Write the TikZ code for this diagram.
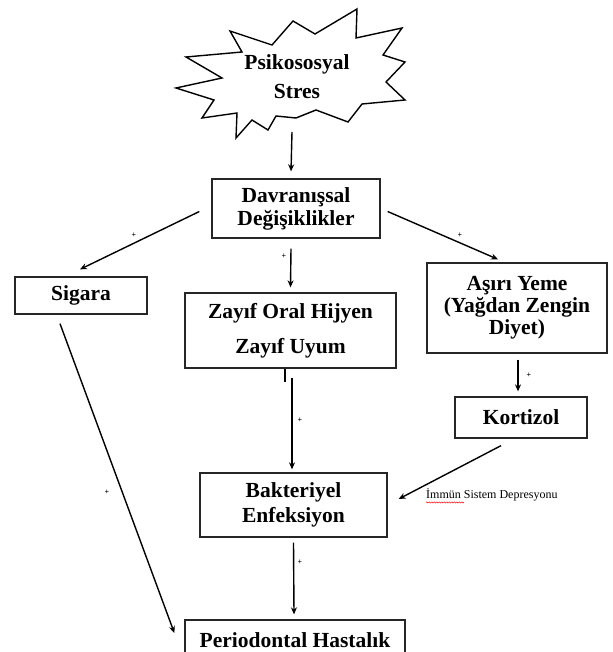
\documentclass[tikz,border=0pt]{standalone}
\usepackage{fontspec}
\setmainfont{Liberation Serif}
\usetikzlibrary{arrows.meta,decorations.pathmorphing}
\begin{document}
\begin{tikzpicture}[x=1pt,y=-1pt,
  box/.style={draw=black!85,line width=1.3pt,align=center,inner sep=0pt,font=\fontsize{21.5}{23}\selectfont\bfseries},
  arr/.style={line width=1.4pt,-{Stealth[length=7pt,width=6pt]}},
  plus/.style={font=\fontsize{8}{9}\selectfont\bfseries,inner sep=0pt},
  note/.style={font=\fontsize{12}{13}\selectfont,inner sep=0pt}]
\useasboundingbox (0,0) rectangle (612,652);
\clip (0,0) rectangle (612,652);
% star
\draw[line width=1.4pt,fill=white,line join=miter]
 (230,31) -- (272,45) -- (293,21) -- (315,34) -- (357,9) -- (356,38) -- (402,28) -- (383,55)
 -- (405,62) -- (386,82) -- (405,100) -- (362,104) -- (348,122) -- (316,110) -- (296,118)
 -- (276,116) -- (268,130) -- (252,120) -- (236,138) -- (237,113) -- (202,118) -- (214,100)
 -- (176,88) -- (222,78) -- (186,57) -- (242,52) -- cycle;
\node[font=\fontsize{21.5}{23}\selectfont\bfseries,align=center,inner sep=0pt] (stres) at (297,77) {Psikososyal\\[6pt]Stres};
\coordinate (starbot) at (292,132);
% boxes
\node[box,minimum width=168pt,minimum height=59pt] (davr) at (296,208.5) {Davranışsal\\Değişiklikler};
\node[box,minimum width=132pt,minimum height=37pt] (sigara) at (81,295.5) {Sigara};
\node[box,minimum width=211pt,minimum height=75pt] (zayif) at (290.5,330.5) {Zayıf Oral Hijyen\\[12pt]Zayıf Uyum};
\node[box,minimum width=180pt,minimum height=90pt,font=\fontsize{21.5}{22}\selectfont\bfseries] (asiri) at (517,308) {Aşırı Yeme\\(Yağdan Zengin\\Diyet)};
\node[box,minimum width=132pt,minimum height=41pt] (kortizol) at (521,417.5) {Kortizol};
\node[box,minimum width=187pt,minimum height=64pt,font=\fontsize{21.5}{25}\selectfont\bfseries] (bakteri) at (293.5,505) {Bakteriyel\\Enfeksiyon};
\node[box,minimum width=220pt,minimum height=40pt] (perio) at (295,640) {Periodontal Hastalık};
% connectors
\draw[arr] (starbot) -- ([xshift=-5pt,yshift=7pt]davr.north);
\draw[arr] ([shift={(-12,3)}]davr.west) -- ([xshift=-1pt,yshift=7pt]sigara.north);
\draw[arr] ([xshift=-5pt,yshift=-10pt]davr.south) -- ([yshift=5pt]zayif.north);
\draw[arr] ([shift={(7,3)}]davr.east) -- ([shift={(-19,-3)}]asiri.north);
\draw[arr] ([shift={(1,6)}]asiri.south) -- ([shift={(-3,-5)}]kortizol.north);
\draw[arr] ([shift={(1.5,9)}]zayif.south) -- ([shift={(-1.5,-3)}]bakteri.north);
\draw[arr] ([shift={(-20,7)}]kortizol.south) -- ([shift={(11,-6)}]bakteri.east);
\draw[arr] ([shift={(0,5)}]bakteri.south) -- ([shift={(-1,-5)}]perio.north);
\draw[arr] ([shift={(-21,9)}]sigara.south) -- ([shift={(-10,-7)}]perio.west);
% stray tick under Zayif box
\draw[line width=1.8pt] ([xshift=-5.5pt]zayif.south) -- ++(0,13);
% plus labels
\node[plus] (p1) at (134,235) {+};
\node[plus] (p2) at (284,256) {+};
\node[plus] (p3) at (460,235) {+};
\node[plus] (p4) at (529,375) {+};
\node[plus] (p5) at (300,420) {+};
\node[plus] (p6) at (300,562) {+};
\node[plus] (p7) at (107,492) {+};
% note
\node[note,anchor=west] (imm) at (426,495) {İmmün Sistem Depresyonu};
\draw[red,line width=0.5pt,decorate,decoration={snake,amplitude=0.6pt,segment length=2.5pt}]
  ([yshift=-1pt]imm.south west) -- ++(38,0);
\end{tikzpicture}
\end{document}
